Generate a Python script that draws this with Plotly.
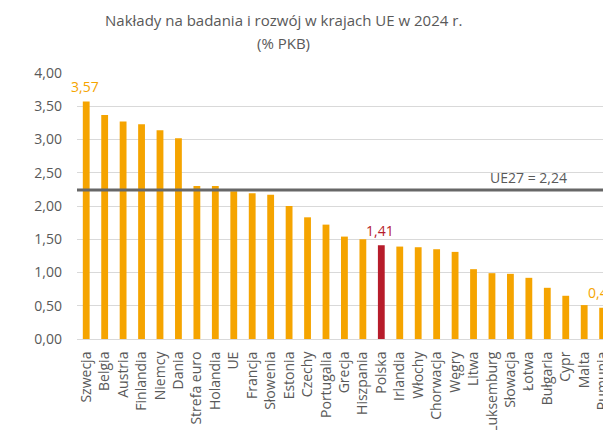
import plotly.graph_objects as go

categories = ["Szwecja", "Belgia", "Austria", "Finlandia", "Niemcy", "Dania", "Strefa euro",
              "Holandia", "UE", "Francja", "Słowenia", "Estonia", "Czechy", "Portugalia",
              "Grecja", "Hiszpania", "Polska", "Irlandia", "Włochy", "Chorwacja", "Węgry",
              "Litwa", "Luksemburg", "Słowacja", "Łotwa", "Bułgaria", "Cypr", "Malta", "Rumunia"]
values = [3.57, 3.37, 3.27, 3.23, 3.14, 3.02, 2.30,
          2.30, 2.22, 2.19, 2.17, 2.00, 1.83, 1.72,
          1.54, 1.50, 1.41, 1.39, 1.38, 1.35, 1.31,
          1.05, 0.99, 0.98, 0.92, 0.77, 0.65, 0.51, 0.47]
eu27_avg = 2.24
labelled = ["Szwecja", "Polska", "Rumunia"]
highlight = "Polska"
title_lines = ["Nakłady na badania i rozwój w krajach UE w 2024 r.", "(% PKB)"]

ORANGE = "#F5A400"
RED = "#B71C2B"
GRAY = "#595959"
FONT = "Open Sans"

W, H = 603, 430
L, T, B = 77, 72.7, 90.7
PW, PH = W - L, H - T - B

colors = [RED if c == highlight else ORANGE for c in categories]

fig = go.Figure()
fig.add_trace(go.Bar(
    x=categories, y=values, marker=dict(color=colors, line=dict(width=0)),
    width=0.37, showlegend=False, hoverinfo="skip"))

fig.add_shape(type="line", xref="paper", yref="y", x0=0, x1=1, y0=eu27_avg, y1=eu27_avg,
              line=dict(color="#676767", width=3), layer="above")
fig.add_annotation(xref="paper", yref="y", x=(528 - L) / PW, y=eu27_avg,
                   text="UE27 = " + f"{eu27_avg:.2f}".replace(".", ","),
                   showarrow=False, yshift=13, font=dict(family=FONT, size=14, color=GRAY),
                   xanchor="center", yanchor="middle")

for c in labelled:
    v = values[categories.index(c)]
    fig.add_annotation(x=c, y=v, text=f"{v:.2f}".replace(".", ","), showarrow=False,
                       yshift=15, xshift=-1, xanchor="center", yanchor="middle",
                       font=dict(family=FONT, size=14, color=RED if c == highlight else ORANGE))

for line, ypx in zip(title_lines, [20, 43]):
    fig.add_annotation(xref="paper", yref="paper", x=(283 - L) / PW, y=(H - B - ypx) / PH,
                       text=line, showarrow=False, xanchor="center", yanchor="middle",
                       font=dict(family=FONT, size=15, color=GRAY))

fig.update_layout(
    width=W, height=H,
    margin=dict(l=L, r=0, t=T, b=B, autoexpand=False, pad=0),
    paper_bgcolor="white", plot_bgcolor="white",
    separators=", ",
    font=dict(family=FONT, size=14, color=GRAY),
    bargap=0.6,
    hovermode=False,
    xaxis=dict(range=[-0.5, 28.02], tickangle=-90, showgrid=False, ticks="",
               showline=True, linecolor="#D9D9D9", linewidth=1,
               tickfont=dict(family=FONT, size=14, color=GRAY), ticklabelstandoff=6),
    yaxis=dict(range=[0, 4], dtick=0.5, tickformat=".2f", showgrid=True,
               gridcolor="#D9D9D9", gridwidth=1, zeroline=False, showline=False, ticks="",
               tickfont=dict(family=FONT, size=14, color=GRAY), ticklabelstandoff=14),
)

fig.write_html("out.html",
               config={"displayModeBar": False, "staticPlot": True},
               post_script="document.body.style.margin='0';document.body.style.overflow='hidden';")
